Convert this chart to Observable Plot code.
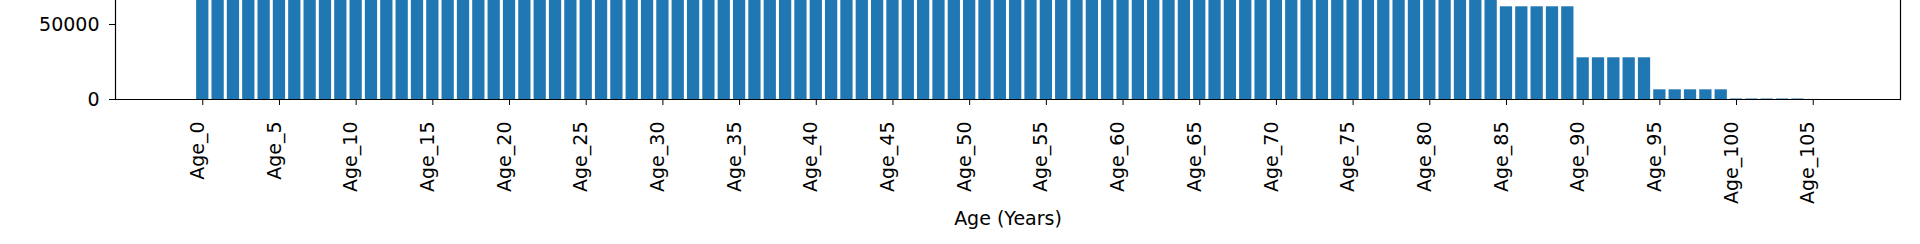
<!DOCTYPE html>
<html>
<head>
<meta charset="utf-8">
<script src="https://cdn.jsdelivr.net/npm/d3@7"></script>
<script src="https://cdn.jsdelivr.net/npm/@observablehq/plot@0.6"></script>
<style>
  html, body { margin: 0; padding: 0; background: #fff; }
  #chart svg, #chart svg text { font-family: "DejaVu Sans", sans-serif !important; font-size: 19px !important; }
</style>
</head>
<body>
<div id="chart"></div>
<script>
const ages = [
  "Age_0","Age_1","Age_2","Age_3","Age_4","Age_5","Age_6","Age_7","Age_8","Age_9",
  "Age_10","Age_11","Age_12","Age_13","Age_14","Age_15","Age_16","Age_17","Age_18","Age_19",
  "Age_20","Age_21","Age_22","Age_23","Age_24","Age_25","Age_26","Age_27","Age_28","Age_29",
  "Age_30","Age_31","Age_32","Age_33","Age_34","Age_35","Age_36","Age_37","Age_38","Age_39",
  "Age_40","Age_41","Age_42","Age_43","Age_44","Age_45","Age_46","Age_47","Age_48","Age_49",
  "Age_50","Age_51","Age_52","Age_53","Age_54","Age_55","Age_56","Age_57","Age_58","Age_59",
  "Age_60","Age_61","Age_62","Age_63","Age_64","Age_65","Age_66","Age_67","Age_68","Age_69",
  "Age_70","Age_71","Age_72","Age_73","Age_74","Age_75","Age_76","Age_77","Age_78","Age_79",
  "Age_80","Age_81","Age_82","Age_83","Age_84","Age_85","Age_86","Age_87","Age_88","Age_89",
  "Age_90","Age_91","Age_92","Age_93","Age_94","Age_95","Age_96","Age_97","Age_98","Age_99",
  "Age_100","Age_101","Age_102","Age_103","Age_104","Age_105"
];

// Ages 0-84 run past the visible top of the plot; their heights are estimates.
const population = [
  80000,80000,80000,80000,80000, 82000,82000,82000,82000,82000,
  84000,84000,84000,84000,84000, 83000,83000,83000,83000,83000,
  81000,81000,81000,81000,81000, 85000,85000,85000,85000,85000,
  88000,88000,88000,88000,88000, 90000,90000,90000,90000,90000,
  92000,92000,92000,92000,92000, 95000,95000,95000,95000,95000,
  97000,97000,97000,97000,97000, 96000,96000,96000,96000,96000,
  93000,93000,93000,93000,93000, 88000,88000,88000,88000,88000,
  82000,82000,82000,82000,82000, 76000,76000,76000,76000,76000,
  70000,70000,70000,70000,70000, 61800,61800,61800,61800,61800,
  27800,27800,27800,27800,27800, 6450,6450,6450,6450,6450,
  350,350,350,350,350, 60
];

const tickLabels = [
  "Age_0","Age_5","Age_10","Age_15","Age_20","Age_25","Age_30","Age_35","Age_40","Age_45",
  "Age_50","Age_55","Age_60","Age_65","Age_70","Age_75","Age_80","Age_85","Age_90","Age_95",
  "Age_100","Age_105"
];
const yTicks = [0, 50000];
const xLabel = "Age (Years)";

const data = ages.map((age, i) => ({age, value: population[i]}));

const chart = Plot.plot({
  width: 1920,
  height: 244,
  marginLeft: 115,
  marginRight: 20,
  marginTop: 0,
  marginBottom: 145,
  style: {fontFamily: "'DejaVu Sans', sans-serif", fontSize: "19px", background: "#fff", color: "#000"},
  x: {type: "band", domain: ages, paddingInner: 0.2, paddingOuter: 5.29, align: 0.5},
  y: {domain: [0, 66000]},
  marks: [
    Plot.barY(data, {x: "age", y: "value", fill: "#1f77b4", clip: true}),
    Plot.axisY({ticks: yTicks, tickSize: 6, tickPadding: 10, tickFormat: d3.format("d"), label: null}),
    Plot.axisX({ticks: tickLabels, tickSize: 6, tickFormat: () => "", label: null}),
    Plot.axisX({ticks: tickLabels, tickRotate: -90, tickSize: 0, tickPadding: 22, label: null, dx: -5}),
    Plot.ruleY([0], {stroke: "#000", strokeWidth: 1.2}),
    Plot.frame({anchor: "left", stroke: "#000", strokeWidth: 1.2}),
    Plot.frame({anchor: "right", stroke: "#000", strokeWidth: 1.2}),
    Plot.text([xLabel], {frameAnchor: "bottom", dy: 119, lineAnchor: "middle", fill: "#000"})
  ]
});

document.getElementById("chart").appendChild(chart);
</script>
</body>
</html>
